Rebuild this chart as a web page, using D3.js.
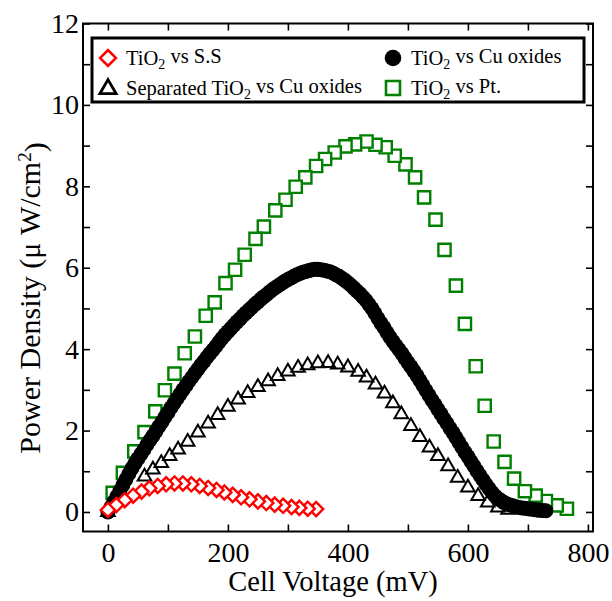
<!DOCTYPE html>
<html>
<head>
<meta charset="utf-8">
<script src="https://cdn.jsdelivr.net/npm/d3@7"></script>
<style>
  body { margin: 0; background: #fff; }
  svg { display: block; font-family: "Liberation Serif", "Times New Roman", serif; }
  .axis text { font-family: "Liberation Serif", "Times New Roman", serif; font-size: 28px; fill: #000; }
  .axis line { stroke: #000; stroke-width: 1.6; }
</style>
</head>
<body>
<svg id="chart" width="612" height="601"></svg>
<script>
// TiO2 vs S.S (red diamonds)
var ssVoltage = [0, 14, 28, 42, 56, 69, 83, 97, 111, 125, 139, 153, 167, 181, 194, 208, 222, 236, 250, 264, 278, 292, 306, 319, 333, 347];
var ssPower = [0.05, 0.17, 0.29, 0.40, 0.50, 0.58, 0.64, 0.68, 0.70, 0.70, 0.68, 0.64, 0.59, 0.54, 0.48, 0.42, 0.36, 0.31, 0.26, 0.22, 0.18, 0.15, 0.12, 0.10, 0.08, 0.07];

// TiO2 vs Cu oxides (black filled circles, dense sweep)
var cuVoltage = [0, 5, 10, 15, 20, 25, 30, 35, 40, 45, 50, 55, 60, 65, 70, 75, 80, 85, 90, 95,
  100, 105, 110, 115, 120, 125, 130, 135, 140, 145, 150, 155, 160, 165, 170, 175, 180, 185, 190, 195,
  200, 205, 210, 215, 220, 225, 230, 235, 240, 245, 250, 255, 260, 265, 270, 275, 280, 285, 290, 295,
  300, 305, 310, 315, 320, 325, 330, 335, 340, 345, 350, 355, 360, 365, 370, 375, 380, 385, 390, 395,
  400, 405, 410, 415, 420, 425, 430, 435, 440, 445, 450, 455, 460, 465, 470, 475, 480, 485, 490, 495,
  500, 505, 510, 515, 520, 525, 530, 535, 540, 545, 550, 555, 560, 565, 570, 575, 580, 585, 590, 595,
  600, 605, 610, 615, 620, 625, 630, 635, 640, 645, 650, 655, 660, 665, 670, 675, 680, 685, 690, 695,
  700, 705, 710, 715, 720, 725, 730];
var cuPower = [0.00, 0.12, 0.25, 0.38, 0.52, 0.66, 0.80, 0.94, 1.07, 1.19, 1.31, 1.42, 1.53, 1.65, 1.76, 1.87, 1.98, 2.10, 2.21, 2.33,
  2.44, 2.56, 2.67, 2.78, 2.89, 3.00, 3.10, 3.21, 3.31, 3.41, 3.51, 3.61, 3.70, 3.80, 3.89, 3.98, 4.07, 4.17, 4.26, 4.35,
  4.43, 4.51, 4.59, 4.67, 4.74, 4.82, 4.89, 4.96, 5.03, 5.10, 5.16, 5.23, 5.29, 5.35, 5.41, 5.47, 5.52, 5.57, 5.62, 5.67,
  5.71, 5.75, 5.79, 5.83, 5.86, 5.89, 5.91, 5.93, 5.95, 5.96, 5.96, 5.95, 5.94, 5.92, 5.90, 5.87, 5.83, 5.79, 5.74, 5.69,
  5.63, 5.57, 5.50, 5.43, 5.36, 5.28, 5.20, 5.10, 5.00, 4.88, 4.76, 4.64, 4.53, 4.41, 4.30, 4.19, 4.09, 3.99, 3.89, 3.78,
  3.67, 3.57, 3.46, 3.35, 3.23, 3.11, 2.99, 2.87, 2.75, 2.64, 2.52, 2.41, 2.29, 2.18, 2.06, 1.95, 1.83, 1.71, 1.59, 1.47,
  1.36, 1.24, 1.13, 1.01, 0.90, 0.79, 0.68, 0.58, 0.48, 0.40, 0.33, 0.28, 0.23, 0.20, 0.17, 0.15, 0.13, 0.11, 0.10, 0.09,
  0.08, 0.07, 0.06, 0.05, 0.04, 0.035, 0.03];

// Separated TiO2 vs Cu oxides (open triangles)
var sepVoltage = [0, 61, 75, 89, 103, 117, 133, 150, 167, 183, 200, 217, 233, 250, 267, 283, 300, 317, 333, 350,
  367, 383, 400, 417, 431, 446, 461, 475, 489, 505, 520, 536, 550, 567, 583, 600, 617, 633, 650, 667];
var sepPower = [0.00, 0.87, 1.04, 1.20, 1.37, 1.53, 1.72, 1.95, 2.17, 2.38, 2.58, 2.76, 2.92, 3.07, 3.21, 3.34, 3.45, 3.54, 3.60, 3.65,
  3.66, 3.62, 3.55, 3.44, 3.30, 3.13, 2.91, 2.67, 2.40, 2.11, 1.84, 1.58, 1.37, 1.12, 0.84, 0.60, 0.39, 0.23, 0.11, 0.05];

// TiO2 vs Pt. (open green squares)
var ptVoltage = [8, 25, 44, 61, 79, 95, 111, 128, 145, 163, 178, 196, 212, 228, 246, 260, 279, 296, 313, 329, 347, 362, 378,
  396, 412, 431, 446, 463, 478, 496, 512, 527, 546, 561, 580, 595, 613, 628, 643, 661, 677, 695, 713, 730, 748, 765];
var ptPower = [0.47, 0.96, 1.49, 1.96, 2.47, 2.99, 3.40, 3.90, 4.31, 4.82, 5.15, 5.62, 5.95, 6.32, 6.71, 7.01, 7.41, 7.67, 7.99, 8.22, 8.50, 8.67, 8.83,
  8.98, 9.03, 9.10, 9.02, 8.96, 8.75, 8.54, 8.22, 7.73, 7.18, 6.44, 5.56, 4.62, 3.58, 2.61, 1.73, 1.23, 0.82, 0.51, 0.40, 0.27, 0.16, 0.08];

var xTicks = [0, 100, 200, 300, 400, 500, 600, 700, 800];
var yTicks = [0, 1, 2, 3, 4, 5, 6, 7, 8, 9, 10, 11, 12];

var svg = d3.select("svg#chart"),
    margin = {top: 23.5, right: 19, bottom: 69.5, left: 83},
    width = +svg.attr("width") - margin.left - margin.right,
    height = +svg.attr("height") - margin.top - margin.bottom;

var x = d3.scaleLinear().domain([-41.5, 808.5]).range([0, width]);
var y = d3.scaleLinear().domain([-0.48, 12]).range([height, 0]);

var g = svg.append("g")
    .attr("transform", "translate(" + margin.left + "," + margin.top + ")");

function zip(vs, ps) {
  return vs.map(function(v, i) { return {v: v, p: ps[i]}; });
}

// axes, ticks pointing inward
g.append("g")
    .attr("class", "axis")
    .attr("transform", "translate(0," + height + ")")
    .call(d3.axisBottom(x).tickValues(xTicks).tickSize(-7).tickPadding(11)
      .tickFormat(function(d) { return d % 200 ? "" : d; }));

g.append("g")
    .attr("class", "axis")
    .call(d3.axisTop(x).tickValues(xTicks).tickSize(-7).tickFormat(""));

g.append("g")
    .attr("class", "axis")
    .call(d3.axisLeft(y).tickValues(yTicks).tickSize(-7).tickPadding(4)
      .tickFormat(function(d) { return d % 2 ? "" : d; }));

g.append("g")
    .attr("class", "axis")
    .attr("transform", "translate(" + width + ",0)")
    .call(d3.axisRight(y).tickValues(yTicks).tickSize(-7).tickFormat(""));

g.selectAll(".axis .domain").remove();

g.append("rect")
    .attr("width", width)
    .attr("height", height)
    .attr("fill", "none")
    .attr("stroke", "#000")
    .attr("stroke-width", 2);

var square = d3.symbol().type(d3.symbolSquare).size(150),
    diamond = d3.symbol().type(d3.symbolSquare).size(100),
    triangle = d3.symbol().type(d3.symbolTriangle).size(80);

// TiO2 vs Pt. - drawn from high voltage to low like the sweep
g.append("g").selectAll("path")
    .data(zip(ptVoltage, ptPower).reverse())
  .enter().append("path")
    .attr("d", square)
    .attr("transform", function(d) { return "translate(" + x(d.v) + "," + y(d.p) + ")"; })
    .attr("fill", "#fff")
    .attr("stroke", "#008000")
    .attr("stroke-width", 2.4);

// TiO2 vs Cu oxides
g.append("g").selectAll("circle")
    .data(zip(cuVoltage, cuPower))
  .enter().append("circle")
    .attr("cx", function(d) { return x(d.v); })
    .attr("cy", function(d) { return y(d.p); })
    .attr("r", 7.5)
    .attr("fill", "#000");

// Separated TiO2 vs Cu oxides
g.append("g").selectAll("path")
    .data(zip(sepVoltage, sepPower))
  .enter().append("path")
    .attr("d", triangle)
    .attr("transform", function(d) { return "translate(" + x(d.v) + "," + y(d.p) + ")"; })
    .attr("fill", "none")
    .attr("stroke", "#000")
    .attr("stroke-width", 2);

// TiO2 vs S.S
g.append("g").selectAll("path")
    .data(zip(ssVoltage, ssPower).reverse())
  .enter().append("path")
    .attr("d", diamond)
    .attr("transform", function(d) { return "translate(" + x(d.v) + "," + y(d.p) + ") rotate(45)"; })
    .attr("fill", "#fff")
    .attr("stroke", "#ff0000")
    .attr("stroke-width", 2.4);

// axis titles
svg.append("text")
    .attr("x", margin.left + width / 2 - 5)
    .attr("y", 591)
    .attr("text-anchor", "middle")
    .style("font-size", "28.5px")
    .text("Cell Voltage (mV)");

var yt = svg.append("text")
    .attr("transform", "translate(40,298) rotate(-90)")
    .attr("text-anchor", "middle")
    .style("font-size", "30px");
yt.append("tspan").text("Power Density (\u03bc W/cm");
yt.append("tspan").attr("dy", "-0.45em").style("font-size", "19px").text("2");
yt.append("tspan").attr("dy", "0.45em").text(")");

// legend (its symbols are a bit larger than the plotted markers)
var legend = svg.append("g");
legend.append("rect")
    .attr("x", 92).attr("y", 38)
    .attr("width", 492).attr("height", 64)
    .attr("fill", "#fff")
    .attr("stroke", "#000")
    .attr("stroke-width", 3);

var lSquare = d3.symbol().type(d3.symbolSquare).size(196),
    lDiamond = d3.symbol().type(d3.symbolSquare).size(125),
    lTriangle = d3.symbol().type(d3.symbolTriangle).size(115);

var entries = [
  {pre: "TiO", post: " vs S.S", sym: "diamond", lx: 108, ly: 58},
  {pre: "TiO", post: " vs Cu oxides", sym: "circle", lx: 393, ly: 58},
  {pre: "Separated TiO", post: " vs Cu oxides", sym: "triangle", lx: 108, ly: 88},
  {pre: "TiO", post: " vs Pt.", sym: "square", lx: 393, ly: 88}
];

entries.forEach(function(e) {
  if (e.sym === "circle") {
    legend.append("circle").attr("cx", e.lx).attr("cy", e.ly).attr("r", 8.3).attr("fill", "#000");
  } else if (e.sym === "diamond") {
    legend.append("path").attr("d", lDiamond)
      .attr("transform", "translate(" + e.lx + "," + e.ly + ") rotate(45)")
      .attr("fill", "#fff").attr("stroke", "#ff0000").attr("stroke-width", 2.6);
  } else if (e.sym === "triangle") {
    legend.append("path").attr("d", lTriangle)
      .attr("transform", "translate(" + e.lx + "," + (e.ly + 1) + ")")
      .attr("fill", "none").attr("stroke", "#000").attr("stroke-width", 2.8);
  } else {
    legend.append("path").attr("d", lSquare)
      .attr("transform", "translate(" + e.lx + "," + e.ly + ")")
      .attr("fill", "#fff").attr("stroke", "#008000").attr("stroke-width", 2.6);
  }
  var t = legend.append("text")
      .attr("x", e.lx + 18)
      .attr("y", e.ly + 7)
      .style("font-size", "20.5px");
  t.append("tspan").text(e.pre);
  t.append("tspan").attr("dy", "0.3em").style("font-size", "14px").text("2");
  t.append("tspan").attr("dy", "-0.3em").text(e.post);
});
</script>
</body>
</html>
